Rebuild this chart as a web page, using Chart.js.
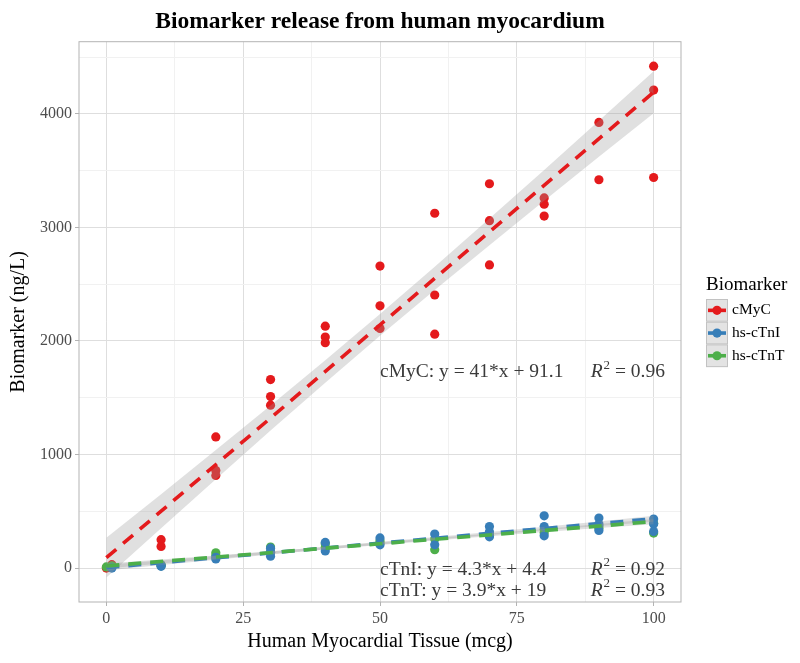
<!DOCTYPE html>
<html>
<head>
<meta charset="utf-8">
<title>Biomarker release from human myocardium</title>
<script src="https://cdn.jsdelivr.net/npm/chart.js@4.4.1/dist/chart.umd.min.js"></script>
<style>
  html, body { margin: 0; padding: 0; background: #fff; }
</style>
</head>
<body>
<canvas id="chart" width="800" height="663"></canvas>
<script>
// Biomarker release vs. myocardial tissue: points + linear fits with 95% bands

const SERIF = "'Liberation Serif', 'Times New Roman', serif";

const TITLE = 'Biomarker release from human myocardium';
const X_TITLE = 'Human Myocardial Tissue (mcg)';
const Y_TITLE = 'Biomarker (ng/L)';
const LEGEND_TITLE = 'Biomarker';

const SERIES = ['cMyC', 'hs-cTnI', 'hs-cTnT'];
const SERIES_COLORS = ['#E41A1C', '#377EB8', '#4DAF4A'];

// axis ticks (major get labels, minor only a faint grid line)
const X_TICKS = [0, 25, 50, 75, 100];
const X_MINOR = [12.5, 37.5, 62.5, 87.5];
const Y_TICKS = [0, 1000, 2000, 3000, 4000];
const Y_MINOR = [500, 1500, 2500, 3500, 4500];

// measured points
const CMYC_X = [0, 1, 10, 10, 20, 20, 20, 30, 30, 30, 40, 40, 40, 50, 50, 50, 60, 60, 60, 70, 70, 70, 80, 80, 80, 90, 90, 100, 100, 100];
const CMYC_Y = [0, 30, 250, 190, 1155, 860, 815, 1660, 1510, 1435, 2130, 2035, 1985, 2660, 2310, 2110, 3125, 2405, 2060, 3385, 3060, 2670, 3260, 3205, 3100, 3925, 3420, 4420, 4210, 3440];

const TNI_X = [1, 1, 10, 10, 20, 20, 30, 30, 30, 40, 40, 50, 50, 60, 60, 70, 70, 70, 80, 80, 80, 90, 90, 90, 100, 100, 100];
const TNI_Y = [5, 0, 15, 25, 95, 80, 175, 105, 140, 226, 150, 265, 205, 300, 205, 366, 320, 275, 460, 366, 284, 440, 387, 331, 431, 387, 322];

const TNT_X = [0, 1, 10, 10, 20, 20, 30, 30, 40, 40, 50, 50, 60, 60, 70, 70, 80, 80, 90, 90, 100, 100];
const TNT_Y = [10, 20, 20, 30, 135, 110, 185, 140, 215, 180, 240, 220, 161, 255, 300, 290, 340, 310, 370, 350, 308, 395];

// fitted lines (end points) and confidence bands
const FIT_X = [0, 100];
const CMYC_FIT = [91.1, 4191.1];
const TNI_FIT = [4.4, 434.4];
const TNT_FIT = [19, 409];

const BAND_X = [0, 10, 20, 30, 40, 50, 60, 70, 80, 90, 100];
const CMYC_UPPER = [266, 651, 1039, 1431, 1830, 2237, 2654, 3078, 3507, 3940, 4376];
const CMYC_LOWER = [-84, 351, 783, 1211, 1632, 2045, 2448, 2844, 3235, 3622, 4006];
const TNI_UPPER = [29, 67, 106, 146, 188, 231, 274, 318, 364, 411, 460];
const TNI_LOWER = [-21, 27, 74, 120, 164, 207, 250, 292, 332, 371, 408];
const TNT_UPPER = [41, 76, 111, 148, 186, 225, 264, 304, 345, 388, 432];
const TNT_LOWER = [-3, 40, 83, 124, 164, 203, 242, 280, 317, 352, 386];

// fit annotations
const EQ_LABELS = ['cMyC: y = 41*x + 91.1', 'cTnI: y = 4.3*x + 4.4', 'cTnT: y = 3.9*x + 19'];
const R2_VALUES = ['0.96', '0.92', '0.93'];

const BAND_FILL = 'rgba(153,153,153,0.3)';
const GRID_MAJOR = '#DEDEDE';
const GRID_MINOR = '#F1F1F1';
const PANEL_BORDER = '#B3B3B3';

const pts = (xs, ys) => xs.map((x, i) => ({ x, y: ys[i] }));

function pointSet(i, xs, ys, order) {
  return {
    label: SERIES[i],
    data: pts(xs, ys),
    backgroundColor: SERIES_COLORS[i],
    borderWidth: 0,
    pointRadius: 4.6,
    pointHoverRadius: 4.6,
    order
  };
}

function bandSet(xs, ys, fill, order) {
  return {
    type: 'line',
    data: pts(xs, ys),
    borderWidth: 0,
    pointRadius: 0,
    backgroundColor: BAND_FILL,
    fill,
    tension: 0,
    order
  };
}

function fitSet(i, ys, order) {
  return {
    type: 'line',
    data: pts(FIT_X, ys),
    borderColor: SERIES_COLORS[i],
    borderWidth: 3.6,
    borderDash: [13, 9],
    pointRadius: 0,
    fill: false,
    order
  };
}

// panel border, equation text and the legend, drawn the ggplot way
const extras = {
  id: 'extras',
  afterDatasetsDraw(chart) {
    const { ctx, chartArea: a, scales: { x, y } } = chart;
    ctx.save();
    ctx.fillStyle = '#3a3a3a';
    ctx.textBaseline = 'middle';
    const eqY = [1725, -15, -200];
    EQ_LABELS.forEach((t, i) => {
      const py = y.getPixelForValue(eqY[i]);
      ctx.font = `19.5px ${SERIF}`;
      ctx.textAlign = 'left';
      ctx.fillText(t, x.getPixelForValue(50), py);
      let px = x.getPixelForValue(88.5);
      ctx.font = `italic 19.5px ${SERIF}`;
      ctx.fillText('R', px, py);
      px += ctx.measureText('R').width + 1;
      ctx.font = `13px ${SERIF}`;
      ctx.fillText('2', px, py - 7);
      px += ctx.measureText('2').width;
      ctx.font = `19.5px ${SERIF}`;
      ctx.fillText(' = ' + R2_VALUES[i], px, py);
    });
    ctx.strokeStyle = PANEL_BORDER;
    ctx.lineWidth = 1;
    ctx.strokeRect(a.left, a.top, a.right - a.left, a.bottom - a.top);
    ctx.restore();
  },
  afterDraw(chart) {
    const ctx = chart.ctx;
    const kx = 706, ky = 299, kw = 22, kh = 22.7;
    ctx.save();
    ctx.fillStyle = '#000';
    ctx.textAlign = 'left';
    ctx.textBaseline = 'middle';
    ctx.font = `19px ${SERIF}`;
    ctx.fillText(LEGEND_TITLE, kx, 285);
    SERIES.forEach((s, i) => {
      const top = ky + i * kh;
      const cy = top + kh / 2;
      ctx.fillStyle = '#E3E3E3';
      ctx.fillRect(kx, top, kw, kh);
      ctx.strokeStyle = '#C2C2C2';
      ctx.lineWidth = 1;
      ctx.strokeRect(kx + 0.5, top + 0.5, kw - 1, kh - 1);
      ctx.strokeStyle = SERIES_COLORS[i];
      ctx.lineWidth = 3.6;
      ctx.beginPath();
      ctx.moveTo(kx + 2, cy);
      ctx.lineTo(kx + kw - 2, cy);
      ctx.stroke();
      ctx.fillStyle = SERIES_COLORS[i];
      ctx.beginPath();
      ctx.arc(kx + kw / 2, cy, 4.6, 0, Math.PI * 2);
      ctx.fill();
      ctx.fillStyle = '#000';
      ctx.font = `15.5px ${SERIF}`;
      ctx.fillText(s, kx + kw + 4, cy);
    });
    ctx.restore();
  }
};

const gridOpts = (majors) => ({
  color: c => majors.includes(c.tick.value) ? GRID_MAJOR : GRID_MINOR,
  tickColor: c => majors.includes(c.tick.value) ? PANEL_BORDER : 'rgba(0,0,0,0)',
  lineWidth: 1,
  tickLength: 4,
  drawTicks: true
});

new Chart(document.getElementById('chart'), {
  type: 'scatter',
  data: {
    datasets: [
      pointSet(0, CMYC_X, CMYC_Y, 20),
      pointSet(2, TNT_X, TNT_Y, 19),
      pointSet(1, TNI_X, TNI_Y, 18),
      bandSet(BAND_X, CMYC_UPPER, '+1', 17),
      bandSet(BAND_X, CMYC_LOWER, false, 17),
      fitSet(0, CMYC_FIT, 16),
      bandSet(BAND_X, TNI_UPPER, '+1', 15),
      bandSet(BAND_X, TNI_LOWER, false, 15),
      fitSet(1, TNI_FIT, 14),
      bandSet(BAND_X, TNT_UPPER, '+1', 13),
      bandSet(BAND_X, TNT_LOWER, false, 13),
      fitSet(2, TNT_FIT, 12)
    ]
  },
  options: {
    responsive: false,
    animation: false,
    devicePixelRatio: 1,
    layout: { padding: { left: 0, right: 119, top: 0, bottom: 0 } },
    plugins: {
      legend: { display: false },
      tooltip: { enabled: false },
      title: {
        display: true,
        text: TITLE,
        fullSize: false,
        color: '#000',
        font: { family: SERIF, size: 23.5, weight: 'bold' },
        padding: { top: 7.5, bottom: 6 }
      }
    },
    scales: {
      x: {
        type: 'linear',
        min: -5,
        max: 105,
        afterBuildTicks: s => { s.ticks = X_TICKS.concat(X_MINOR).sort((p, q) => p - q).map(v => ({ value: v })); },
        afterFit: s => { s.height = 61; },
        grid: gridOpts(X_TICKS),
        border: { display: false },
        ticks: {
          autoSkip: false,
          maxRotation: 0,
          padding: 3,
          color: '#4D4D4D',
          font: { family: SERIF, size: 16 },
          callback: v => X_TICKS.includes(v) ? String(v) : ''
        },
        title: {
          display: true,
          text: X_TITLE,
          color: '#000',
          font: { family: SERIF, size: 20 },
          padding: { top: 0, bottom: 9 }
        }
      },
      y: {
        type: 'linear',
        min: -299,
        max: 4636,
        afterBuildTicks: s => { s.ticks = Y_TICKS.concat(Y_MINOR).sort((p, q) => p - q).map(v => ({ value: v })); },
        afterFit: s => { s.width = 79; },
        grid: gridOpts(Y_TICKS),
        border: { display: false },
        ticks: {
          autoSkip: false,
          padding: 3,
          color: '#4D4D4D',
          font: { family: SERIF, size: 16 },
          callback: v => Y_TICKS.includes(v) ? String(v) : ''
        },
        title: {
          display: true,
          text: Y_TITLE,
          color: '#000',
          font: { family: SERIF, size: 20 },
          padding: { top: 7, bottom: 0 }
        }
      }
    }
  },
  plugins: [extras]
});
</script>
</body>
</html>
